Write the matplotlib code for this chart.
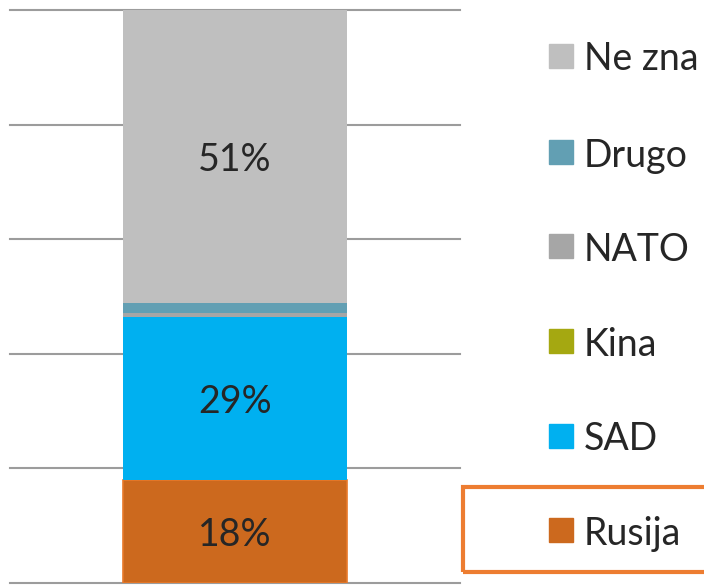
import matplotlib.pyplot as plt
from matplotlib.patches import Rectangle

# stacked shares (%), bottom to top
categories = ["Rusija", "SAD", "Kina", "NATO", "Drugo", "Ne zna"]
values = [17.9, 28.6, 0.0, 0.6, 1.7, 51.2]
colors = ["#CC691E", "#00B0F0", "#A5A811", "#A6A6A6", "#629FB3", "#BFBFBF"]
labelled = ["Rusija", "SAD", "Ne zna"]

plt.rcParams['font.family'] = ['Lato', 'DejaVu Sans']

W, H = 704, 585
fig = plt.figure(figsize=(W / 100, H / 100), dpi=100)
ax = fig.add_axes([10 / W, 2 / H, 450 / W, 573 / H])

bottom = 0
for cat, v, c in zip(categories, values, colors):
    if cat == "Rusija":
        ax.bar(0, v, width=0.496, bottom=bottom, color=c, edgecolor="#E8792A", linewidth=1.2, zorder=3)
    else:
        ax.bar(0, v, width=0.496, bottom=bottom, color=c, linewidth=0, zorder=3)
    if cat in labelled:
        ax.text(0, bottom + v / 2, f"{v:.0f}%", ha="center", va="center_baseline",
                fontsize=27, color="#262626", zorder=4)
    bottom += v

ax.set_xlim(-0.5, 0.5)
ax.set_ylim(0, 100)
for yv in range(0, 101, 20):
    ax.axhline(yv, color="#9C9C9C", linewidth=1.5, zorder=1, clip_on=False)
ax.set_xticks([])
ax.set_yticks([])
for s in ax.spines.values():
    s.set_visible(False)

# legend, drawn by hand, top entry first
ys = [56, 152, 246, 341, 436, 530]
for (cat, c), yp in zip(list(zip(categories, colors))[::-1], ys):
    fig.patches.append(Rectangle((549 / W, 1 - (yp + 12) / H), 24 / W, 24 / H,
                                 transform=fig.transFigure, color=c))
    fig.text(584 / W, 1 - yp / H, cat, ha="left", va="center_baseline",
             fontsize=27, color="#262626")

# highlight box around Rusija
fig.patches.append(Rectangle((463 / W, 1 - 572 / H), 260 / W, 85 / H,
                             transform=fig.transFigure, fill=False,
                             edgecolor="#ED7D31", linewidth=3))

fig.savefig("out.png", dpi=100)
